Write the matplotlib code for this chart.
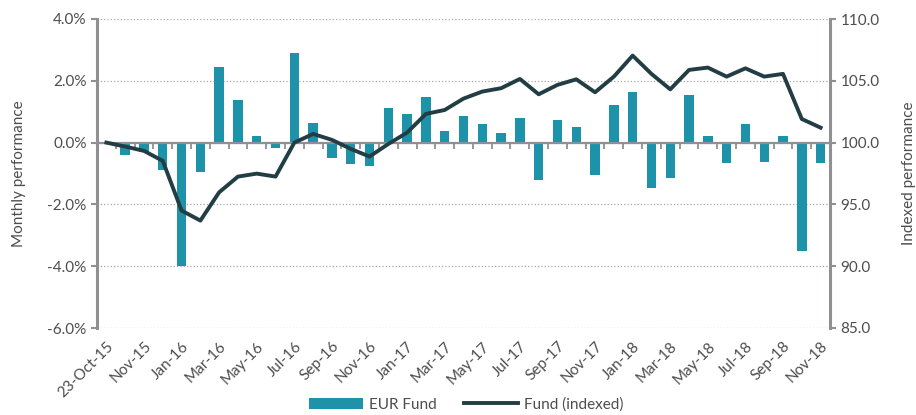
import matplotlib.pyplot as plt
import numpy as np

plt.rcParams['font.family'] = ['Lato', 'DejaVu Sans']

# Categories: launch date, then month ends
months = ['23-Oct-15', 'Oct-15', 'Nov-15', 'Dec-15',
          'Jan-16', 'Feb-16', 'Mar-16', 'Apr-16', 'May-16', 'Jun-16',
          'Jul-16', 'Aug-16', 'Sep-16', 'Oct-16', 'Nov-16', 'Dec-16',
          'Jan-17', 'Feb-17', 'Mar-17', 'Apr-17', 'May-17', 'Jun-17',
          'Jul-17', 'Aug-17', 'Sep-17', 'Oct-17', 'Nov-17', 'Dec-17',
          'Jan-18', 'Feb-18', 'Mar-18', 'Apr-18', 'May-18', 'Jun-18',
          'Jul-18', 'Aug-18', 'Sep-18', 'Oct-18', 'Nov-18']

# Monthly performance (%)
monthly = [np.nan, -0.40, -0.29, -0.88,
           -3.99, -0.96, 2.46, 1.38, 0.20, -0.18,
           2.89, 0.63, -0.51, -0.69, -0.76, 1.13,
           0.93, 1.48, 0.37, 0.86, 0.59, 0.30,
           0.78, -1.22, 0.72, 0.52, -1.05, 1.22,
           1.65, -1.48, -1.15, 1.53, 0.20, -0.67,
           0.59, -0.64, 0.22, -3.52, -0.66]

# Fund indexed to 100
indexed = [100.0, 99.68, 99.33, 98.52,
           94.50, 93.69, 95.98, 97.25, 97.49, 97.25,
           100.0, 100.70, 100.22, 99.49, 98.87, 99.89,
           100.81, 102.32, 102.64, 103.56, 104.13, 104.40,
           105.15, 103.91, 104.67, 105.12, 104.07, 105.34,
           107.04, 105.56, 104.31, 105.88, 106.07, 105.34,
           106.01, 105.34, 105.56, 101.91, 101.21]

bar_color = '#1e92a9'
line_color = '#233d45'
axis_gray = '#8e9093'
text_color = '#4d4d4d'

x = np.arange(len(months))

fig = plt.figure(figsize=(9.16, 4.15), dpi=100)
ax = fig.add_axes([97 / 916, 1 - 328 / 415, (830 - 97) / 916, (328 - 19) / 415])

ax.bar(x, monthly, width=0.5, color=bar_color, label='EUR Fund', zorder=2)
ax.set_xlim(-0.5, len(months) - 0.5)
ax.set_ylim(-6, 4)
ax.set_yticks(np.arange(-6, 4.1, 2))
ax.set_yticklabels([f'{v:.1f}%' for v in np.arange(-6, 4.1, 2)])
ax.yaxis.grid(True, linestyle=':', color='#a8a8a8', linewidth=0.9, zorder=0)
ax.set_axisbelow(True)
ax.set_ylabel('Monthly performance', fontsize=11, color=text_color, labelpad=15)

# zero axis with ticks between the months
ax.spines['bottom'].set_position(('data', 0))
ax.spines['bottom'].set_color(axis_gray)
ax.spines['bottom'].set_linewidth(1.6)
ax.spines['top'].set_visible(False)
ax.spines['right'].set_visible(False)
ax.spines['left'].set_color(axis_gray)
ax.spines['left'].set_linewidth(2.2)
ax.set_xticks(np.arange(0.5, len(months) - 1, 1))
ax.set_xticklabels([])
ax.tick_params(axis='x', length=4, width=1.3, color=axis_gray)
ax.tick_params(axis='y', length=4, width=1.5, color=axis_gray,
               labelsize=11, labelcolor=text_color)

# month labels along the bottom of the plot
sec = ax.secondary_xaxis('bottom')
sec.set_xticks(x[::2])
sec.set_xticklabels(months[::2], rotation=45, ha='right', rotation_mode='anchor',
                    fontsize=11, color=text_color)
sec.tick_params(length=0, pad=8)
sec.spines['bottom'].set_visible(False)

ax2 = ax.twinx()
ax2.plot(x, indexed, color=line_color, linewidth=2.8, label='Fund (indexed)', zorder=3)
ax2.set_ylim(85, 110)
ax2.set_yticks(np.arange(85, 110.1, 5))
ax2.set_yticklabels([f'{v:.1f}' for v in np.arange(85, 110.1, 5)])
ax2.set_ylabel('Indexed performance', fontsize=11, color=text_color, labelpad=16)
for s in ['top', 'left', 'bottom']:
    ax2.spines[s].set_visible(False)
ax2.spines['right'].set_color(axis_gray)
ax2.spines['right'].set_linewidth(2.2)
ax2.tick_params(axis='y', length=4, width=1.5, color=axis_gray,
                labelsize=11, labelcolor=text_color)

h1, l1 = ax.get_legend_handles_labels()
h2, l2 = ax2.get_legend_handles_labels()
fig.legend(h1 + h2, l1 + l2, loc='lower center', bbox_to_anchor=(0.509, -0.025),
           ncol=2, frameon=False, fontsize=11, handlelength=3.5,
           handletextpad=0.4, columnspacing=1.8, labelcolor=text_color)

fig.savefig('out.png', dpi=100)
